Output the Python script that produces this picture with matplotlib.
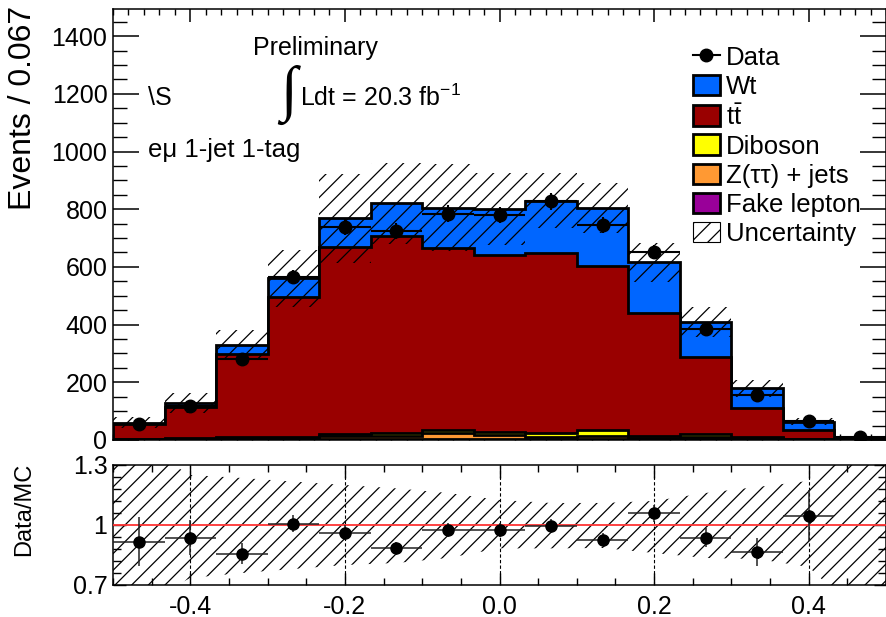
"""Stacked MC vs data for the e-mu 1-jet 1-tag region, with a Data/MC ratio pad."""

import matplotlib

matplotlib.use("Agg")
import matplotlib.pyplot as plt
import numpy as np
from matplotlib.lines import Line2D
from matplotlib.patches import Patch
from matplotlib.ticker import FixedLocator, MultipleLocator

plt.rcParams["font.family"] = ["Liberation Sans", "DejaVu Sans"]
plt.rcParams["mathtext.fontset"] = "custom"
plt.rcParams["mathtext.rm"] = "Liberation Sans"
plt.rcParams["axes.unicode_minus"] = False
plt.rcParams["hatch.linewidth"] = 0.9

OUTPUT = "out.png"

# 15 bins of width 1/15 between -0.5 and 0.5
bin_edges = np.linspace(-0.5, 0.5, 16)

# stacked backgrounds, bottom to top
fake = [1, 1, 2, 2, 3, 3, 3, 3, 3, 3, 2, 2, 2, 1, 0.5]
ztautau = [2, 3, 4, 6, 10, 12, 20, 14, 8, 10, 5, 8, 4, 1, 0.5]
diboson = [1, 2, 3, 4, 8, 10, 12, 10, 12, 20, 8, 10, 5, 2, 0.5]
ttbar = [51, 109, 289, 485, 647, 682, 629, 614, 626, 570, 426, 269, 99, 31, 3]
wt = [5, 12, 31, 63, 100, 113, 141, 159, 181, 200, 175, 121, 69, 29, 4]

data = [55, 119, 282, 564, 739, 724, 785, 780, 827, 744, 652, 384, 155, 67, 12]
data_err = [7.4, 10.9, 16.8, 23.7, 27.2, 26.9, 28.0, 27.9, 28.8, 27.3, 25.5, 19.6, 12.4, 8.2, 3.5]

# absolute MC uncertainty in the top pad
mc_unc = [20, 35, 52, 98, 155, 140, 150, 124, 94, 87, 67, 52, 29, 12, 5]
# relative band in the ratio pad (up / down)
ratio_unc_up = [0.40, 0.25, 0.235, 0.217, 0.20, 0.183, 0.16, 0.125, 0.11, 0.11, 0.12, 0.16, 0.19, 0.22, 0.45]
ratio_unc_dn = [0.40, 0.265, 0.24, 0.22, 0.20, 0.19, 0.165, 0.117, 0.117, 0.115, 0.14, 0.165, 0.17, 0.21, 0.45]

layers = [
    ("Fake lepton", fake, "#990099"),
    ("Z(ττ) + jets", ztautau, "#ff9933"),
    ("Diboson", diboson, "#ffff00"),
    (r"t$\mathrm{\bar{t}}$", ttbar, "#990000"),
    ("Wt", wt, "#0066ff"),
]


def main() -> int:
    centers = 0.5 * (bin_edges[1:] + bin_edges[:-1])
    width = bin_edges[1] - bin_edges[0]

    cum = np.cumsum([np.asarray(v, dtype=float) for _, v, _ in layers], axis=0)
    total = cum[-1]

    fig = plt.figure(figsize=(8.87, 6.17), dpi=100)
    ax = fig.add_axes([0.1274, 0.2869, 0.8715, 0.6985])
    rax = fig.add_axes([0.1274, 0.0519, 0.8715, 0.1945])

    # stack: draw cumulative histograms from the top layer down
    for i in reversed(range(len(layers))):
        ax.stairs(cum[i], bin_edges, baseline=0, fill=True,
                  facecolor=layers[i][2], edgecolor="k", linewidth=2.0, zorder=2)

    unc = np.asarray(mc_unc, dtype=float)
    ax.bar(centers, 2 * unc, bottom=total - unc, width=width, align="center",
           facecolor="none", edgecolor="k", linewidth=0, hatch="//", zorder=3)

    ax.errorbar(centers, data, yerr=data_err, xerr=width / 2, fmt="o",
                color="k", markersize=9, elinewidth=1.5, capsize=0, zorder=5)

    ax.set_xlim(-0.5, 0.5)
    ax.set_ylim(0, 1494)
    ax.yaxis.set_major_locator(MultipleLocator(200))
    ax.yaxis.set_minor_locator(MultipleLocator(50))
    ax.xaxis.set_major_locator(MultipleLocator(0.2))
    ax.xaxis.set_minor_locator(MultipleLocator(0.02))
    ax.tick_params(which="both", direction="in", top=True, right=True,
                   labelbottom=False, labelsize=18)
    ax.tick_params(axis="y", which="major", length=19, width=1.1, pad=4)
    ax.tick_params(axis="y", which="minor", length=10, width=1.0)
    ax.tick_params(axis="x", which="major", length=9, width=1.1)
    ax.tick_params(axis="x", which="minor", length=4.5, width=1.0)
    for s in ax.spines.values():
        s.set_linewidth(1.1)

    fig.text(23 / 887, 1 - 6 / 617, "Events / 0.067", rotation=90,
             ha="center", va="top", fontsize=23)

    # annotations
    ax.text(253 / 887, 1 - 48 / 617, "Preliminary", transform=fig.transFigure,
            fontsize=18, va="center", ha="left")
    ax.text(289 / 887, 1 - 95 / 617, "∫", transform=fig.transFigure,
            fontsize=44, va="center", ha="center",
            family=["Liberation Serif", "DejaVu Sans"])
    ax.text(300 / 887, 1 - 98 / 617, r"Ldt = 20.3 fb$^{\mathregular{-1}}$",
            transform=fig.transFigure, fontsize=18, va="center", ha="left")
    ax.text(148 / 887, 1 - 98 / 617, "\\S", transform=fig.transFigure,
            fontsize=18, va="center", ha="left")
    ax.text(148 / 887, 1 - 150 / 617, "eμ 1-jet 1-tag", transform=fig.transFigure,
            fontsize=18.5, va="center", ha="left")

    handles = [Line2D([], [], color="k", marker="o", markersize=9, linewidth=1.5)]
    labels = ["Data"]
    for name, _, color in reversed(layers):
        handles.append(Patch(facecolor=color, edgecolor="k", linewidth=2.0))
        labels.append(name)
    handles.append(Patch(facecolor="white", edgecolor="k", linewidth=0.8, hatch="//"))
    labels.append("Uncertainty")
    ax.legend(handles, labels, loc="upper left", bbox_to_anchor=(0.781, 0.926),
              bbox_transform=fig.transFigure, frameon=False, fontsize=18.5,
              handlelength=1.05, handleheight=0.85, handletextpad=0.25,
              labelspacing=0.19, borderpad=0, borderaxespad=0)

    # ratio pad
    band_x = np.concatenate([[bin_edges[0]], centers, [bin_edges[-1]]])
    up = np.asarray(ratio_unc_up)
    dn = np.asarray(ratio_unc_dn)
    band_hi = 1 + np.concatenate([[up[0]], up, [up[-1]]])
    band_lo = 1 - np.concatenate([[dn[0]], dn, [dn[-1]]])
    rax.fill_between(band_x, band_lo, band_hi, facecolor="none", edgecolor="k",
                     linewidth=0, hatch="//", zorder=1)
    rax.axhline(1.0, color="#ff3333", linewidth=1.3, zorder=3)

    ratio = np.asarray(data, dtype=float) / total
    ratio_err = np.asarray(data_err) / total
    # like ROOT, points whose value falls outside the pad are not drawn
    shown = (ratio > 0.7) & (ratio < 1.3)
    rax.errorbar(centers[shown], ratio[shown], yerr=ratio_err[shown], xerr=width / 2,
                 fmt="o", color="k", ecolor="#222222", markersize=8, elinewidth=1.1,
                 capsize=0, zorder=5)

    rax.set_xlim(-0.5, 0.5)
    rax.set_ylim(0.7, 1.3)
    rax.yaxis.set_major_locator(FixedLocator([0.7, 1.0, 1.3]))
    rax.set_yticklabels(["0.7", "1", "1.3"])
    rax.yaxis.set_minor_locator(FixedLocator(np.arange(0.7, 1.31, 0.06)))
    rax.xaxis.set_major_locator(MultipleLocator(0.2))
    rax.xaxis.set_minor_locator(MultipleLocator(0.05))
    rax.tick_params(which="both", direction="in", top=True, right=True, labelsize=18)
    rax.tick_params(axis="x", which="major", length=9, width=1.0, pad=7)
    rax.tick_params(axis="x", which="minor", length=5, width=1.0)
    rax.tick_params(axis="y", which="major", length=9, width=1.0, pad=4)
    rax.tick_params(axis="y", which="minor", length=6, width=1.0)
    rax.grid(axis="x", which="major", color="k", linewidth=0.8,
             linestyle=(0, (3, 2)))
    for s in rax.spines.values():
        s.set_linewidth(1.1)

    fig.text(24 / 887, 1 - 463 / 617, "Data/MC", rotation=90,
             ha="center", va="top", fontsize=17)

    fig.savefig(OUTPUT, dpi=100)
    return 0


if __name__ == "__main__":
    raise SystemExit(main())
